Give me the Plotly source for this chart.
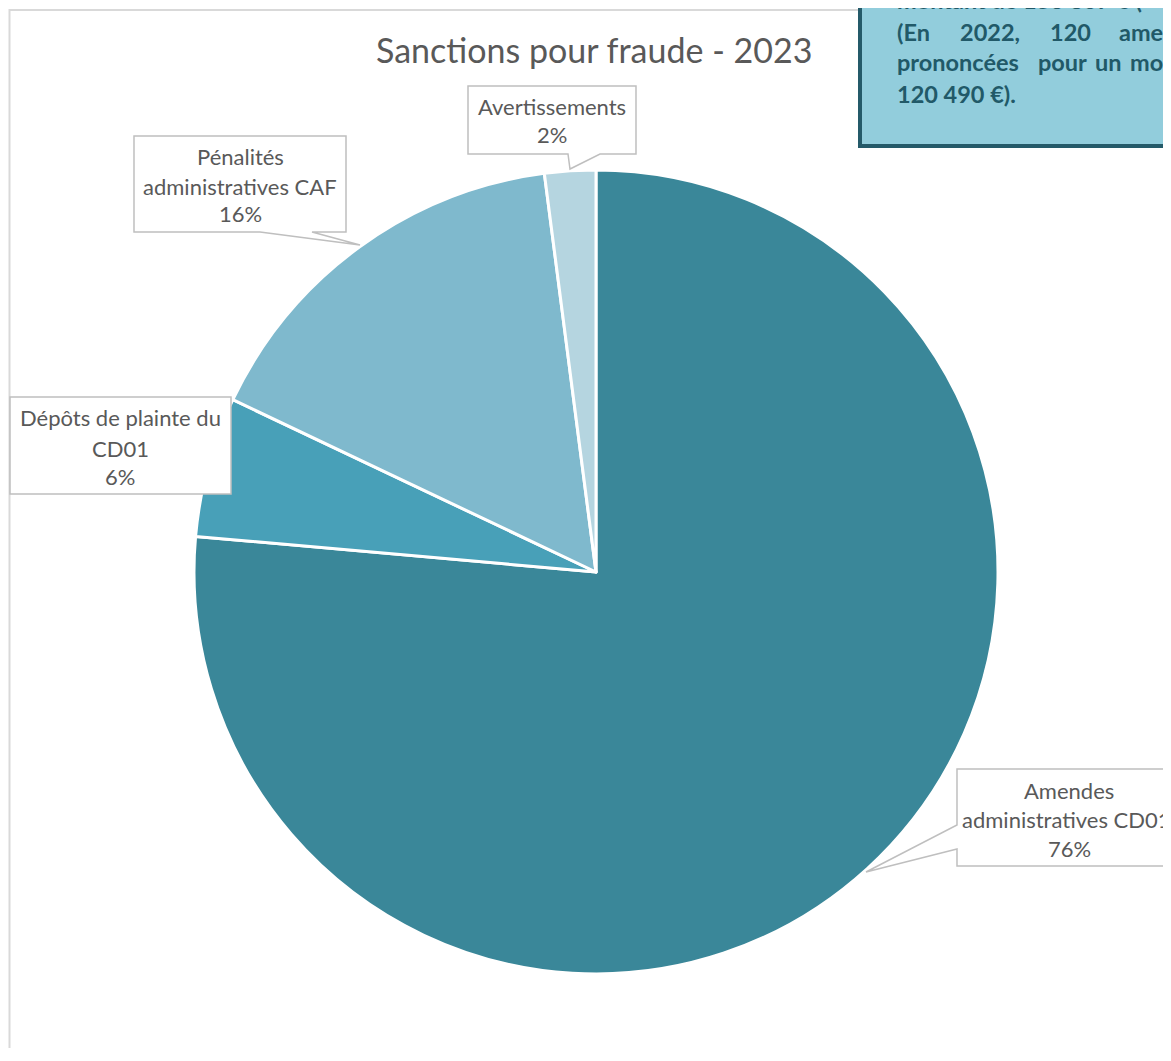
import plotly.graph_objects as go

# The page places the figure 8px from the top-left corner (default body margin),
# so reference pixel coords are shifted by 8; height is kept below the window
# height so that no scrollbar appears.
OFF = 8
W, H = 1171 - OFF, 1040

# ---- data ----
title_text = "Sanctions pour fraude - 2023"
categories = ["Amendes administratives CD01", "Dépôts de plainte du CD01",
              "Pénalités administratives CAF", "Avertissements"]
values = [149, 11, 31, 4]
label_lines = [["Amendes", "administratives CD01"],
               ["Dépôts de plainte du", "CD01"],
               ["Pénalités", "administratives CAF"],
               ["Avertissements"]]
colors = ["#3A8799", "#48A0B8", "#7FB9CD", "#B5D5E0"]

note_lines = [["montant de 153 807 € (+"],
              ["(En", "2022,", "120", "amen"],
              ["prononcées", "pour", "un", "mo"],
              ["120 490 €)."]]
note_word_x = [[895], [895, 958, 1048, 1117], [895, 1036, 1093, 1128], [895]]
note_line_y = [0, 32, 62, 94]


def px(x):
    return (x - OFF) / W


def py(y):
    return 1 - (y - OFF) / H


total = sum(values)
pcts = [round(v / total * 100) for v in values]

fig = go.Figure()
fig.add_trace(go.Pie(
    labels=categories, values=values, sort=False, direction="clockwise",
    rotation=0, textinfo="none", hoverinfo="skip",
    marker=dict(colors=colors, line=dict(color="white", width=3)),
    domain=dict(x=[px(194), px(998)], y=[py(974), py(170)]),
    showlegend=False,
))

shapes = []
annotations = []

# chart border
shapes.append(dict(type="rect", xref="paper", yref="paper",
                   x0=px(9.5), x1=px(1300), y0=py(10), y1=py(1200),
                   line=dict(color="#D9D9D9", width=2), fillcolor="rgba(0,0,0,0)",
                   layer="below"))

# callout label boxes (outline path incl. pointer)
boxes = {
    0: dict(x0=957, x1=1300, y0=769, y1=866, cx=[1069, 1066, 1069], ys=[790, 819, 848],
            ptr=("left", 825, 849, (866, 872))),
    1: dict(x0=10, x1=231, y0=397, y1=494, cx=[120] * 3, ys=[418, 448, 477], ptr=None),
    2: dict(x0=134, x1=346, y0=136, y1=232, cx=[240] * 3, ys=[157, 186, 214],
            ptr=("bottom", 260, 312, (360, 245))),
    3: dict(x0=468, x1=636, y0=86, y1=154, cx=[552] * 2, ys=[106, 134],
            ptr=("bottom", 568, 600, (570, 169))),
}

for i, b in boxes.items():
    x0, x1, y0, y1 = b["x0"], b["x1"], b["y0"], b["y1"]
    pts = [(x0, y0), (x1, y0), (x1, y1)]
    ptr = b["ptr"]
    if ptr and ptr[0] == "bottom":
        a, c, tip = ptr[1], ptr[2], ptr[3]
        pts += [(c, y1), tip, (a, y1), (x0, y1)]
    else:
        pts += [(x0, y1)]
    if ptr and ptr[0] == "left":
        a, c, tip = ptr[1], ptr[2], ptr[3]
        pts += [(x0, c), tip, (x0, a)]
    path = "M " + " L ".join(f"{px(x):.5f},{py(y):.5f}" for x, y in pts) + " Z"
    shapes.append(dict(type="path", xref="paper", yref="paper", path=path,
                       fillcolor="white", line=dict(color="#BFBFBF", width=1.5)))
    lines = label_lines[i] + [f"{pcts[i]}%"]
    for txt, xx, yy in zip(lines, b["cx"], b["ys"]):
        annotations.append(dict(text=txt, x=px(xx), y=py(yy), xref="paper", yref="paper",
                                xanchor="center", yanchor="middle", showarrow=False,
                                font=dict(family="Lato", size=22, color="#595959")))

# title
annotations.append(dict(text=title_text, x=px(594), y=py(50), xref="paper", yref="paper",
                        xanchor="center", yanchor="middle", showarrow=False,
                        font=dict(family="Lato", size=34, color="#595959")))

# note box top-right
shapes.append(dict(type="rect", xref="paper", yref="paper",
                   x0=px(860), x1=px(1300), y0=py(-50), y1=py(146),
                   fillcolor="#92CDDC", line=dict(color="#245A69", width=4)))
for words, xs, yy in zip(note_lines, note_word_x, note_line_y):
    for w, xx in zip(words, xs):
        annotations.append(dict(text=w, x=px(xx), y=py(yy), xref="paper", yref="paper",
                                xanchor="left", yanchor="middle", showarrow=False,
                                font=dict(family="Lato", size=23.5, color="#215968",
                                          weight="bold")))

fig.update_layout(
    width=W, height=H, margin=dict(l=0, r=0, t=0, b=0),
    paper_bgcolor="white", plot_bgcolor="white",
    shapes=shapes, annotations=annotations,
)
fig.write_html("out.html")
